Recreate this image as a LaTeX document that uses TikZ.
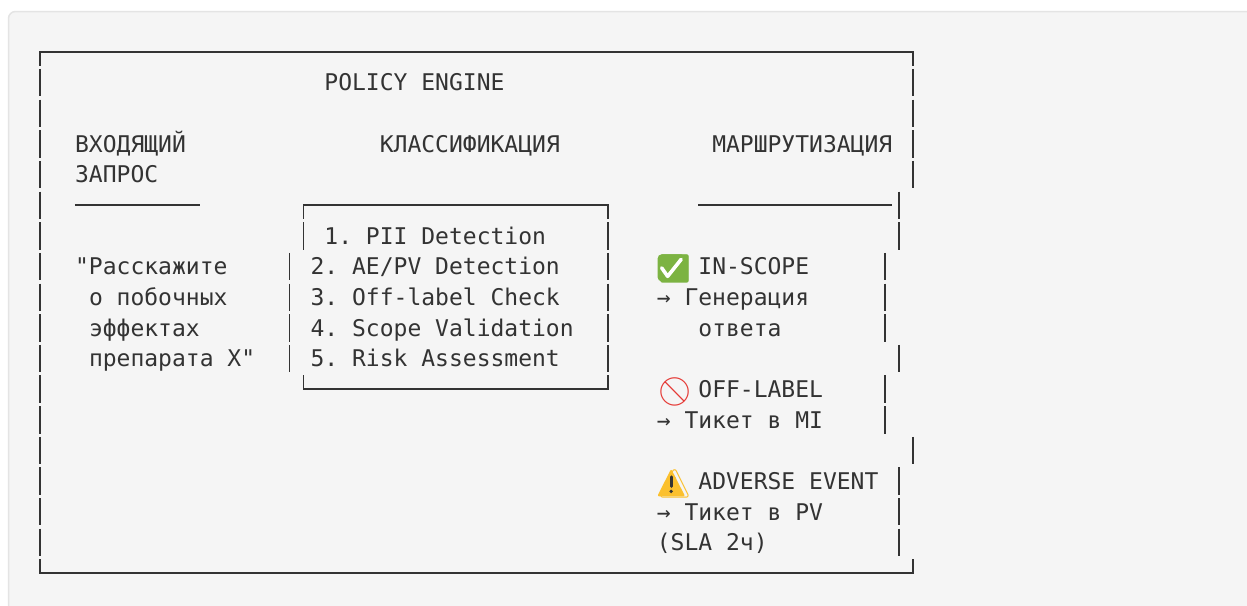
\documentclass[tikz,border=0pt]{standalone}
\usepackage{fontspec}
\usepackage{xcolor}
\setmonofont{DejaVu Sans Mono}
\newfontfamily\emojifont{Noto Emoji}
\definecolor{panelfill}{HTML}{F5F5F5}
\definecolor{panelrim}{HTML}{E4E4E4}
\definecolor{inkgrey}{HTML}{333333}
\definecolor{checkgreen}{HTML}{7CB342}
\definecolor{stopred}{HTML}{E53935}
\definecolor{warnyellow}{HTML}{FBC02D}
\tikzset{boxline/.style = {draw=inkgrey, line width=1.7pt}}
\tikzset{txt/.style = {anchor=base west, inner sep=0pt, text=inkgrey}}
\newcommand{\colL}[1]{\xo+\cw*#1}
\newcommand{\colC}[1]{\xo+\cw*#1+\cw/2}
\newcommand{\rowC}[1]{\yo+\lh*#1}
\newcommand{\rowB}[1]{\yo+\lh*#1+8.3}
\newcommand{\emo}[2]{{\emojifont\fontsize{28}{28}\selectfont\color{#1}\makebox[27.7pt][l]{\raisebox{-4pt}{#2}}}}

\begin{document}
\begin{tikzpicture}[x=1pt, y=-1pt, font=\ttfamily\fontsize{23}{30}\selectfont]
	\def\cw{13.85}
	\def\xo{33.4}
	\def\lh{30.65}
	\def\yo{52}
	\def\bh{13.7}

	\useasboundingbox (0,0) rectangle (1247,605);
	\clip (0,0) rectangle (1247,605);
	\fill[white] (0,0) rectangle (1247,605);
	\draw[fill=panelfill, draw=panelrim, line width=1.5pt, rounded corners=7pt] (8.5,11.5) rectangle (1280,640);

	% outer frame
	\draw[boxline] ({\colC{0}}, {\rowC{0}+\bh}) -- ({\colC{0}}, {\rowC{0}}) -- ({\colC{63}}, {\rowC{0}}) -- ({\colC{63}}, {\rowC{0}+\bh});
	\draw[boxline] ({\colC{0}}, {\rowC{17}-\bh}) -- ({\colC{0}}, {\rowC{17}}) -- ({\colC{63}}, {\rowC{17}}) -- ({\colC{63}}, {\rowC{17}-\bh});
	\foreach \r in {1,...,16}
		\draw[boxline] ({\colC{0}}, {\rowC{\r}-\bh}) -- ({\colC{0}}, {\rowC{\r}+\bh});
	\foreach \r/\c in {1/63,2/63,3/63,4/63,5/62,6/62,7/61,8/61,9/61,10/62,11/61,12/61,13/63,14/62,15/62,16/62}
		\draw[boxline] ({\colC{\c}}, {\rowC{\r}-\bh}) -- ({\colC{\c}}, {\rowC{\r}+\bh});

	\draw[boxline] ({\colL{3}}, {\rowC{5}}) -- ({\colL{12}}, {\rowC{5}});
	\draw[boxline] ({\colL{48}}, {\rowC{5}}) -- ({\colL{62}}, {\rowC{5}});

	% checks box
	\draw[boxline] ({\colC{19}}, {\rowC{5}+\bh}) -- ({\colC{19}}, {\rowC{5}}) -- ({\colC{41}}, {\rowC{5}}) -- ({\colC{41}}, {\rowC{5}+\bh});
	\draw[boxline] ({\colC{19}}, {\rowC{11}-\bh}) -- ({\colC{19}}, {\rowC{11}}) -- ({\colC{41}}, {\rowC{11}}) -- ({\colC{41}}, {\rowC{11}-\bh});
	\foreach \r/\c in {6/19,7/18,8/18,9/18,10/18}
		\draw[boxline] ({\colC{\c}}, {\rowC{\r}-\bh}) -- ({\colC{\c}}, {\rowC{\r}+\bh});
	\foreach \r in {6,...,10}
		\draw[boxline] ({\colC{41}}, {\rowC{\r}-\bh}) -- ({\colC{41}}, {\rowC{\r}+\bh});

	% icon fills
	\fill[checkgreen, rounded corners=4pt] ({\colL{45}+1}, {\rowB{7}-20.5}) rectangle ({\colL{45}+28.5}, {\rowB{7}+6.5});
	\fill[warnyellow, rounded corners=2pt] ({\colL{45}+14.5}, {\rowB{14}-20.5}) -- ({\colL{45}+28.5}, {\rowB{14}+7}) -- ({\colL{45}+0.5}, {\rowB{14}+7}) -- cycle;

	\node[txt] (title) at ({\colL{21}}, {\rowB{1}}) {POLICY ENGINE};
	\node[txt] (inhead) at ({\colL{3}}, {\rowB{3}}) {ВХОДЯЩИЙ};
	\node[txt] (inhead2) at ({\colL{3}}, {\rowB{4}}) {ЗАПРОС};
	\node[txt] (clshead) at ({\colL{25}}, {\rowB{3}}) {КЛАССИФИКАЦИЯ};
	\node[txt] (routehead) at ({\colL{49}}, {\rowB{3}}) {МАРШРУТИЗАЦИЯ};

	\node[txt] (query1) at ({\colL{3}}, {\rowB{7}}) {"Расскажите};
	\node[txt] (query2) at ({\colL{4}}, {\rowB{8}}) {о побочных};
	\node[txt] (query3) at ({\colL{4}}, {\rowB{9}}) {эффектах};
	\node[txt] (query4) at ({\colL{4}}, {\rowB{10}}) {препарата X"};

	\node[txt] (step1) at ({\colL{21}}, {\rowB{6}}) {1. PII Detection};
	\node[txt] (step2) at ({\colL{20}}, {\rowB{7}}) {2. AE/PV Detection};
	\node[txt] (step3) at ({\colL{20}}, {\rowB{8}}) {3. Off-label Check};
	\node[txt] (step4) at ({\colL{20}}, {\rowB{9}}) {4. Scope Validation};
	\node[txt] (step5) at ({\colL{20}}, {\rowB{10}}) {5. Risk Assessment};

	\node[txt] (inscope) at ({\colL{45}}, {\rowB{7}}) {\emo{checkgreen}{✅} IN-SCOPE};
	\node[txt] (inscope2) at ({\colL{45}}, {\rowB{8}}) {→ Генерация};
	\node[txt] (inscope3) at ({\colL{48}}, {\rowB{9}}) {ответа};
	\node[txt] (offlabel) at ({\colL{45}}, {\rowB{11}}) {\emo{stopred}{🚫} OFF-LABEL};
	\node[txt] (offlabel2) at ({\colL{45}}, {\rowB{12}}) {→ Тикет в MI};
	\node[txt] (adverse) at ({\colL{45}}, {\rowB{14}}) {\emo{warnyellow}{⚠} ADVERSE EVENT};
	\node[txt] (adverse2) at ({\colL{45}}, {\rowB{15}}) {→ Тикет в PV};
	\node[txt] (adverse3) at ({\colL{45}}, {\rowB{16}}) {(SLA 2ч)};

	% icon marks
	\draw[white, line width=3.6pt, line cap=round, line join=round] ({\colL{45}+5}, {\rowB{7}-7}) -- ({\colL{45}+11}, {\rowB{7}+1.5}) -- ({\colL{45}+24.5}, {\rowB{7}-15.5});
	\draw[inkgrey, line width=3.2pt, line cap=round] ({\colL{45}+14.5}, {\rowB{14}-12.5}) -- ({\colL{45}+14.5}, {\rowB{14}-3});
	\fill[inkgrey] ({\colL{45}+14.5}, {\rowB{14}+2}) circle (1.9pt);
\end{tikzpicture}
\end{document}
